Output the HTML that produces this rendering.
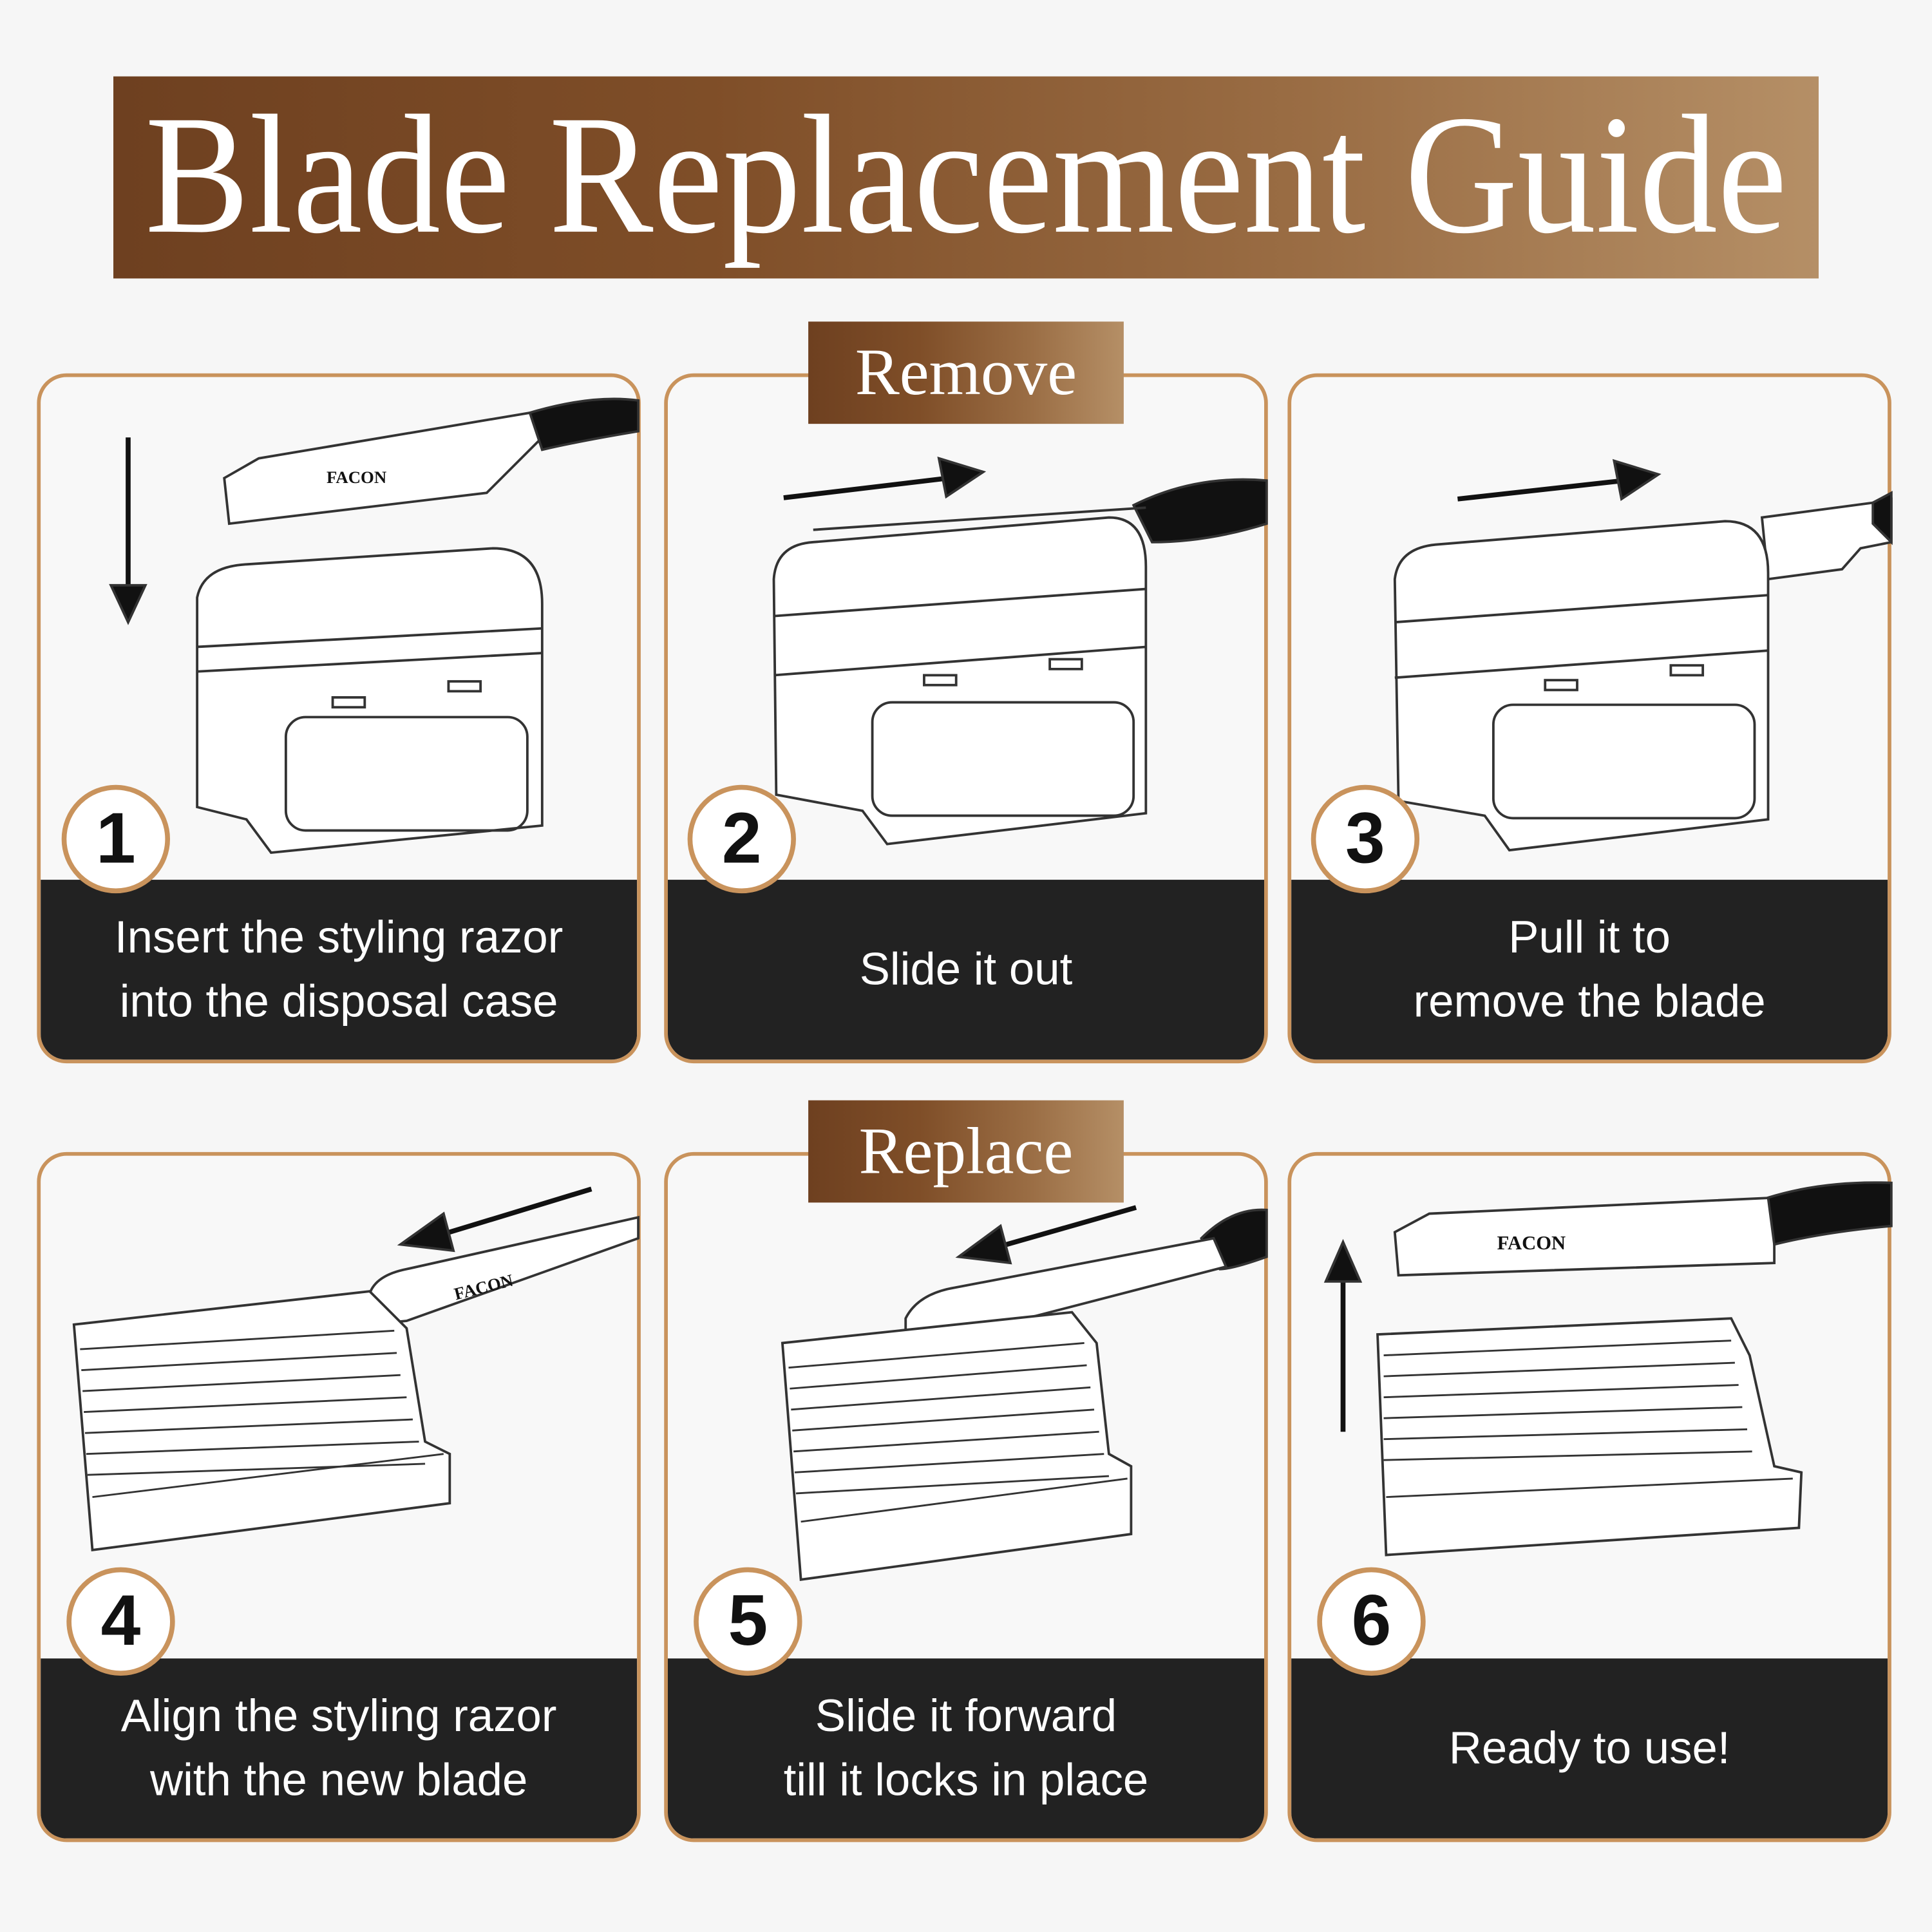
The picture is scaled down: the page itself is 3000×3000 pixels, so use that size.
<!DOCTYPE html>
<html><head><meta charset="utf-8"><style>
html,body{margin:0;padding:0;background:#f6f6f6;}
#w{position:absolute;left:0;top:0;width:1568px;height:1568px;transform:scale(1.91327);transform-origin:0 0;background:#f6f6f6;overflow:hidden;font-family:"Liberation Sans",sans-serif;}
.ban{position:absolute;background:linear-gradient(90deg,#6e4020 0%,#7f4e28 35%,#9a6d44 70%,#b58f66 100%);color:#fff;font-family:"Liberation Serif",serif;text-align:center;white-space:nowrap;}
.ban span{position:absolute;left:50%;top:0;transform:translateX(-50%) scaleX(0.92);}
.p{position:absolute;width:484px;height:554px;border:3px solid #c9935c;border-radius:24px;overflow:hidden;background:#f8f8f8;}
.d{position:absolute;left:0;right:0;top:408px;bottom:0;background:#222;color:#fff;font-size:37px;line-height:52px;display:flex;align-items:center;justify-content:center;text-align:center;}
.c{position:absolute;width:80px;height:80px;border:4px solid #c9935c;border-radius:50%;background:#fff;color:#111;font-weight:bold;font-size:58px;line-height:80px;text-align:center;}
svg{position:absolute;left:0;top:0}
</style></head><body><div id="w">
<div class="ban" style="left:92px;top:62px;width:1384px;height:164px;font-size:138px;line-height:160px;"><span>Blade Replacement Guide</span></div>

<div class="p" style="left:30px;top:303px"><div class="d">Insert the styling razor<br>into the disposal case</div></div>
<div class="p" style="left:539px;top:303px"><div class="d">Slide it out</div></div>
<div class="p" style="left:1045px;top:303px"><div class="d">Pull it to<br>remove the blade</div></div>
<div class="p" style="left:30px;top:935px"><div class="d">Align the styling razor<br>with the new blade</div></div>
<div class="p" style="left:539px;top:935px"><div class="d">Slide it forward<br>till it locks in place</div></div>
<div class="p" style="left:1045px;top:935px"><div class="d">Ready to use!</div></div>

<div class="ban" style="left:656px;top:261px;width:256px;height:83px;font-size:54px;line-height:83px;">Remove</div>
<div class="ban" style="left:656px;top:893px;width:256px;height:83px;font-size:54px;line-height:83px;">Replace</div>

<svg width="1568" height="1568" viewBox="0 0 1568 1568" fill="none" stroke="#333" stroke-width="2">
<line x1="104" y1="355" x2="104" y2="490" stroke="#111" stroke-width="4"/><polygon points="90,475 118,475 104,505" fill="#111"/>
<path d="M182,388 L210,372 L430,335 L440,355 L395,400 L186,425 Z" fill="#fff"/>
<path d="M430,335 Q480,320 518,325 L518,350 Q470,358 440,365 Z" fill="#111"/>
<text x="265" y="392" font-size="14" font-family="Liberation Serif" fill="#111" stroke="none" font-weight="bold">FACON</text>
<path d="M160,485 Q165,460 200,458 L400,445 Q440,445 440,490 L440,670 L220,692 L200,665 L160,655 Z" fill="#fff"/>
<line x1="160" y1="525" x2="440" y2="510"/><line x1="160" y1="545" x2="440" y2="530"/>
<rect x="232" y="582" width="196" height="92" rx="16"/>
<rect x="270" y="566" width="26" height="8"/><rect x="364" y="553" width="26" height="8"/>
<line x1="636" y1="404" x2="770" y2="388" stroke="#111" stroke-width="4"/><polygon points="762,372 798,383 768,403" fill="#111"/>
<path d="M920,410 Q970,385 1028,390 L1028,425 Q980,440 935,440 Z" fill="#111"/>
<line x1="660" y1="430" x2="930" y2="412"/>
<path d="M628,470 Q630,442 660,440 L900,420 Q930,420 930,460 L930,660 L720,685 L700,658 L630,645 Z" fill="#fff"/>
<line x1="628" y1="500" x2="930" y2="478"/><line x1="628" y1="548" x2="930" y2="525"/>
<rect x="708" y="570" width="212" height="92" rx="16"/>
<rect x="750" y="548" width="26" height="8"/><rect x="852" y="535" width="26" height="8"/>
<line x1="1183" y1="405" x2="1318" y2="390" stroke="#111" stroke-width="4"/><polygon points="1310,374 1346,385 1316,405" fill="#111"/>
<path d="M1430,420 L1520,408 L1535,405 L1535,440 L1510,445 L1495,462 L1435,470 Z" fill="#fff"/>
<path d="M1520,408 L1535,400 L1535,440 L1520,425 Z" fill="#111"/>
<path d="M1132,470 Q1135,445 1165,442 L1400,423 Q1435,423 1435,465 L1435,665 L1225,690 L1205,662 L1135,650 Z" fill="#fff"/>
<line x1="1132" y1="505" x2="1435" y2="483"/><line x1="1132" y1="550" x2="1435" y2="528"/>
<rect x="1212" y="572" width="212" height="92" rx="16"/>
<rect x="1254" y="552" width="26" height="8"/><rect x="1356" y="540" width="26" height="8"/>
<line x1="480" y1="965" x2="355" y2="1003" stroke="#111" stroke-width="4"/><polygon points="325,1010 360,985 368,1015" fill="#111"/>
<path d="M300,1050 Q305,1035 330,1030 L518,988 L518,1005 L330,1072 L300,1075 Z" fill="#fff"/>
<text x="370" y="1055" font-size="14" font-family="Liberation Serif" fill="#111" stroke="none" font-weight="bold" transform="rotate(-14 370 1055)">FACON</text>
<path d="M60,1075 L300,1048 L330,1078 L345,1170 L365,1180 L365,1220 L75,1258 Z" fill="#fff"/>
<g stroke-width="1.5"><line x1="65" y1="1095" x2="320" y2="1080"/><line x1="66" y1="1112" x2="322" y2="1098"/><line x1="67" y1="1129" x2="325" y2="1116"/><line x1="68" y1="1146" x2="330" y2="1134"/><line x1="69" y1="1163" x2="335" y2="1152"/><line x1="70" y1="1180" x2="340" y2="1170"/><line x1="71" y1="1197" x2="345" y2="1188"/><line x1="75" y1="1215" x2="360" y2="1180"/></g>
<line x1="922" y1="980" x2="810" y2="1012" stroke="#111" stroke-width="4"/><polygon points="778,1020 812,995 820,1025" fill="#111"/>
<path d="M975,1005 Q1000,980 1028,982 L1028,1020 Q1000,1030 990,1030 Z" fill="#111"/>
<path d="M735,1070 Q745,1050 775,1045 L985,1005 L995,1028 L775,1085 L735,1085 Z" fill="#fff"/>
<path d="M635,1090 L870,1065 L890,1090 L900,1180 L918,1190 L918,1245 L650,1282 Z" fill="#fff"/>
<g stroke-width="1.5"><line x1="640" y1="1110" x2="880" y2="1090"/><line x1="641" y1="1127" x2="882" y2="1108"/><line x1="642" y1="1144" x2="885" y2="1126"/><line x1="643" y1="1161" x2="888" y2="1144"/><line x1="644" y1="1178" x2="892" y2="1162"/><line x1="645" y1="1195" x2="896" y2="1180"/><line x1="646" y1="1212" x2="900" y2="1198"/><line x1="650" y1="1235" x2="915" y2="1200"/></g>
<line x1="1090" y1="1162" x2="1090" y2="1035" stroke="#111" stroke-width="4"/><polygon points="1076,1040 1104,1040 1090,1008" fill="#111"/>
<path d="M1132,1000 L1160,985 L1440,972 L1440,1025 L1135,1035 Z" fill="#fff"/>
<path d="M1435,972 Q1480,958 1535,960 L1535,995 Q1480,1000 1440,1010 Z" fill="#111"/>
<text x="1215" y="1014" font-size="16" font-family="Liberation Serif" fill="#111" stroke="none" font-weight="bold">FACON</text>
<path d="M1118,1083 L1405,1070 L1420,1100 L1440,1190 L1462,1195 L1460,1240 L1125,1262 Z" fill="#fff"/>
<g stroke-width="1.5"><line x1="1123" y1="1100" x2="1405" y2="1088"/><line x1="1123" y1="1117" x2="1408" y2="1106"/><line x1="1123" y1="1134" x2="1411" y2="1124"/><line x1="1123" y1="1151" x2="1414" y2="1142"/><line x1="1123" y1="1168" x2="1418" y2="1160"/><line x1="1123" y1="1185" x2="1422" y2="1178"/><line x1="1125" y1="1215" x2="1455" y2="1200"/></g>
</svg>

<div class="c" style="left:50px;top:637px">1</div>
<div class="c" style="left:558px;top:637px">2</div>
<div class="c" style="left:1064px;top:637px">3</div>
<div class="c" style="left:54px;top:1272px">4</div>
<div class="c" style="left:563px;top:1272px">5</div>
<div class="c" style="left:1069px;top:1272px">6</div>
</div></body></html>
